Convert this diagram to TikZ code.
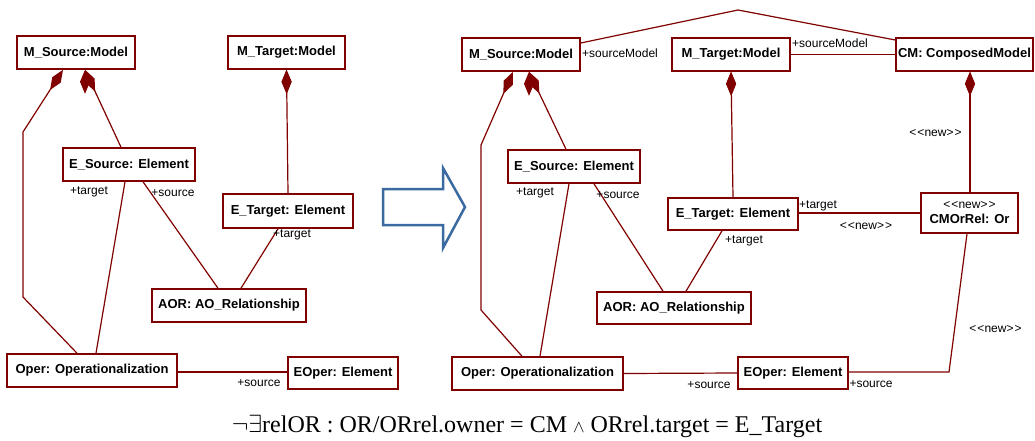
\documentclass[tikz,border=0pt]{standalone}
\usepackage{fontspec}
\setmainfont{Liberation Sans}
\newfontfamily\formulafont{Liberation Serif}
\usetikzlibrary{arrows.meta}
\definecolor{umlred}{RGB}{128,0,0}
\definecolor{arrowblue}{RGB}{58,106,160}
\newcommand{\stereonew}{<\kern1pt<new>\kern1pt>}

\begin{document}
\begin{tikzpicture}[x=1pt, y=-1pt,
	umlobj/.style={rectangle, draw=umlred, line width=1.6pt, inner sep=2pt,
		font=\fontsize{13}{15}\selectfont\bfseries},
	objsize/.style 2 args={minimum width=#1pt, minimum height=#2pt},
	lbl/.style={font=\fontsize{12}{14}\selectfont, inner sep=0pt},
	link/.style={draw=umlred, line width=1.2pt},
	owned/.style={link, {Diamond[length=24pt,width=10pt,fill=umlred]}-}]
	\useasboundingbox (0,0) rectangle (1035,441);
	% before
	\node[umlobj, objsize={118}{33}] (source-model) at (76,52.5) {M\_Source:Model};
	\node[umlobj, objsize={117}{33}] (target-model) at (286.5,52.5) {M\_Target:Model};
	\node[umlobj, objsize={132}{33}] (source-element) at (129,164.5) {E\_Source: Element};
	\node[umlobj, objsize={130}{34}] (target-element) at (288,211) {E\_Target: Element};
	\node[umlobj, objsize={154}{33}] (ao-rel) at (229,305.5) {AOR: AO\_Relationship};
	\node[umlobj, objsize={170}{33}] (operat) at (92,370.5) {Oper: Operationalization};
	\node[umlobj, objsize={110}{32}] (oper-element) at (343,373) {EOper: Element};
	\draw[owned] ([xshift=-13pt]source-model.south) -- (23,132) -- (23,297) -- ([xshift=-15pt]operat.north);
	\path[owned] ([xshift=9pt]source-model.south) edge ([xshift=-8pt]source-element.north);
	\path[owned] (target-model.south) edge (target-element.north);
	\path[link] ([xshift=-4pt]source-element.south) edge ([xshift=4pt]operat.north);
	\path[link] ([xshift=14pt]source-element.south) edge ([xshift=-11pt]ao-rel.north);
	\path[link] ([xshift=-10pt]target-element.south) edge ([xshift=12pt]ao-rel.north);
	\path[link] ([yshift=-1.5pt]operat.east) edge ([yshift=1pt]oper-element.west);
	\node[lbl] at (89,192) {+target};
	\node[lbl] at (173,193) {+source};
	\node[lbl] at (292,235) {+target};
	\node[lbl] at (259,383) {+source};
	% transformation arrow
	\draw[arrowblue, line width=2.5pt, line join=miter] (383,189) -- (443,189) -- (443,168) -- (465,207)
		-- (443,248) -- (443,225) -- (383,225) -- cycle;
	% after
	\node[umlobj, objsize={118}{33}] (source-model2) at (521,54.5) {M\_Source:Model};
	\node[umlobj, objsize={118}{33}] (target-model2) at (731,54.5) {M\_Target:Model};
	\node[umlobj, objsize={135}{33}] (composed) at (964.5,54.5) {CM: ComposedModel};
	\node[umlobj, objsize={132}{33}] (source-element2) at (574,166.5) {E\_Source: Element};
	\node[umlobj, objsize={130}{32}] (target-element2) at (733,214) {E\_Target: Element};
	\node[umlobj, objsize={97}{40}, align=center, inner sep=1pt] (cm-or) at (969.5,213)
		{{\mdseries\fontsize{12}{13}\selectfont\stereonew}\\CMOrRel: Or};
	\node[umlobj, objsize={154}{32}] (ao-rel2) at (674,308) {AOR: AO\_Relationship};
	\node[umlobj, objsize={171}{33}] (operat2) at (537.5,373.5) {Oper: Operationalization};
	\node[umlobj, objsize={110}{32}] (oper-element2) at (793,373) {EOper: Element};
	\draw[owned] ([xshift=-8pt]source-model2.south) -- (481,145) -- (481,310) -- ([xshift=-15.5pt]operat2.north);
	\path[owned] ([xshift=8pt]source-model2.south) edge ([xshift=-8pt]source-element2.north);
	\path[owned] (target-model2.south) edge (target-element2.north);
	\path[owned] ([xshift=5.5pt]composed.south) edge ([xshift=0.5pt]cm-or.north);
	\draw[link] ([yshift=11.5pt]source-model2.east) -- (738,10) -- ([yshift=14.5pt]composed.west);
	\path[link] (target-model2.east) edge (composed.west);
	\path[link] ([xshift=-5pt]source-element2.south) edge ([xshift=2.5pt]operat2.north);
	\path[link] ([xshift=20pt]source-element2.south) edge ([xshift=-11pt]ao-rel2.north);
	\path[link] ([xshift=-11pt]target-element2.south) edge ([xshift=12pt]ao-rel2.north);
	\path[link] ([yshift=1pt]target-element2.east) edge (cm-or.west);
	\path[link] (operat2.east) edge (oper-element2.west);
	\draw[link] ([yshift=1pt]oper-element2.east) -- (949,372) -- ([xshift=-2.5pt]cm-or.south);
	\node[lbl] at (620,53) {+sourceModel};
	\node[lbl] at (830,43) {+sourceModel};
	\node[lbl] at (935.5,133) {\stereonew};
	\node[lbl] at (535,193) {+target};
	\node[lbl] at (618,195) {+source};
	\node[lbl] at (744,241) {+target};
	\node[lbl] at (818,206) {+target};
	\node[lbl] at (866,226) {\stereonew};
	\node[lbl] at (709,385) {+source};
	\node[lbl] at (871,384) {+source};
	\node[lbl] at (995.5,329) {\stereonew};
	% constraint
	\node[font=\formulafont\fontsize{24}{26}\selectfont, inner sep=0pt] (constraint) at (527,426)
		{$\neg\exists$relOR : OR/ORrel.owner = CM {\fontsize{16}{16}\selectfont$\wedge$} ORrel.target = E\_Target};
\end{tikzpicture}
\end{document}
